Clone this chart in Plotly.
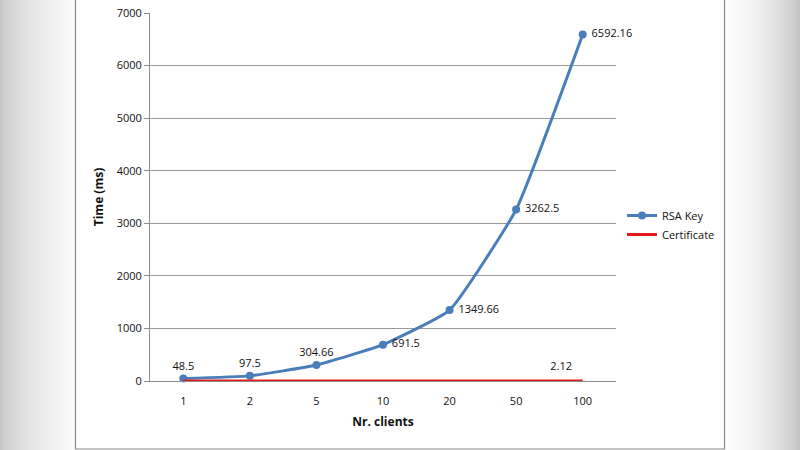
import plotly.graph_objects as go

categories = ["1", "2", "5", "10", "20", "50", "100"]
rsa_key = [48.5, 97.5, 304.66, 691.5, 1349.66, 3262.5, 6592.16]
certificate = [2.1, 2.1, 2.1, 2.1, 2.1, 2.1, 2.12]
y_ticks = [0, 1000, 2000, 3000, 4000, 5000, 6000, 7000]

W, H = 800, 450
ML, MR, MT, MB = 150, 184, 13, 69
PW, PH = W - ML - MR, H - MT - MB

def px(x):
    return (x - ML) / PW

def py(y):
    return (H - MB - y) / PH

FONT = "Open Sans"

rsa_text = [f"{v:g}" for v in rsa_key]
rsa_pos = ["top center", "top center", "top center", "middle right",
           "middle right", "middle right", "middle right"]
cert_text = [""] * (len(certificate) - 1) + [f"{certificate[-1]:g} "]
cert_msize = [0] * (len(certificate) - 1) + [11]

fig = go.Figure()
fig.add_trace(go.Scatter(
    x=categories, y=rsa_key, name="RSA Key",
    mode="lines+markers+text",
    line=dict(color="#4a7ebb", width=3, shape="spline", smoothing=0.4),
    marker=dict(color="#4a7ebb", size=8),
    text=[" " + t if p == "middle right" else t for t, p in zip(rsa_text, rsa_pos)],
    textposition=rsa_pos,
    textfont=dict(family=FONT, size=11, color="#111111"),
    cliponaxis=False,
))
fig.add_trace(go.Scatter(
    x=categories, y=certificate, name="Certificate",
    mode="lines+markers+text",
    line=dict(color="#e41a1c", width=3),
    marker=dict(size=cert_msize, color="rgba(0,0,0,0)", line=dict(width=0)),
    text=cert_text, textposition="top left",
    textfont=dict(family=FONT, size=11, color="#111111"),
    cliponaxis=False,
))

def lerp_col(a, b, t):
    v = round(a + (b - a) * t)
    return f"rgb({v},{v},{v})"

shapes = []
# gray side gradients
N = 30
for i in range(N):
    t = i / (N - 1)
    x0 = 75 * i / N
    x1 = 75 * (i + 1) / N + 0.6
    shapes.append(dict(type="rect", xref="paper", yref="paper", layer="below",
                       x0=px(x0), x1=px(x1), y0=py(H + 2), y1=py(-2),
                       fillcolor=lerp_col(198, 250, min(1, t ** 0.6)), line=dict(width=0)))
rstart = 724
for i in range(N):
    t = i / (N - 1)
    x0 = rstart + (W - rstart) * i / N
    x1 = rstart + (W - rstart) * (i + 1) / N + 0.6
    shapes.append(dict(type="rect", xref="paper", yref="paper", layer="below",
                       x0=px(x0), x1=px(x1), y0=py(H + 2), y1=py(-2),
                       fillcolor=lerp_col(252, 198, t ** 1.8), line=dict(width=0)))
# white chart box with border
shapes.append(dict(type="rect", xref="paper", yref="paper", layer="below",
                   x0=px(75.5), x1=px(724.5), y0=py(449), y1=py(-3),
                   fillcolor="white", line=dict(color="#8a8a8a", width=1.2)))

fig.update_layout(
    width=W, height=H,
    margin=dict(l=ML, r=MR, t=MT, b=MB, pad=0, autoexpand=False),
    paper_bgcolor="white", plot_bgcolor="rgba(0,0,0,0)",
    font=dict(family=FONT, size=11, color="#111111"),
    shapes=shapes,
    showlegend=True,
    legend=dict(x=px(622), y=py(225), xanchor="left", yanchor="middle",
                bgcolor="rgba(0,0,0,0)", font=dict(family=FONT, size=11),
                itemwidth=30, tracegroupgap=6),
    xaxis=dict(
        type="category", categoryorder="array", categoryarray=categories,
        range=[-0.5, len(categories) - 0.5], automargin=False,
        showgrid=False, showline=True, linecolor="#8c8c8c", linewidth=1,
        ticks="outside", ticklen=10, tickcolor="rgba(0,0,0,0)",
        tickfont=dict(family=FONT, size=11),
        title=dict(text="<b>Nr. clients</b>", font=dict(family=FONT, size=12), standoff=10),
        zeroline=False,
    ),
    yaxis=dict(
        range=[0, 7000], tickvals=y_ticks, automargin=False,
        showgrid=True, gridcolor="#9a9a9a", gridwidth=1,
        showline=True, linecolor="#8c8c8c", linewidth=1,
        ticks="outside", ticklen=5, tickcolor="#8c8c8c",
        tickfont=dict(family=FONT, size=11),
        title=dict(text="<b>Time (ms)</b>", font=dict(family=FONT, size=12), standoff=10),
        zeroline=False,
    ),
)

fig.write_html("out.html", config={"displayModeBar": False},
               post_script="document.body.style.margin='0';document.body.style.overflow='hidden';")
